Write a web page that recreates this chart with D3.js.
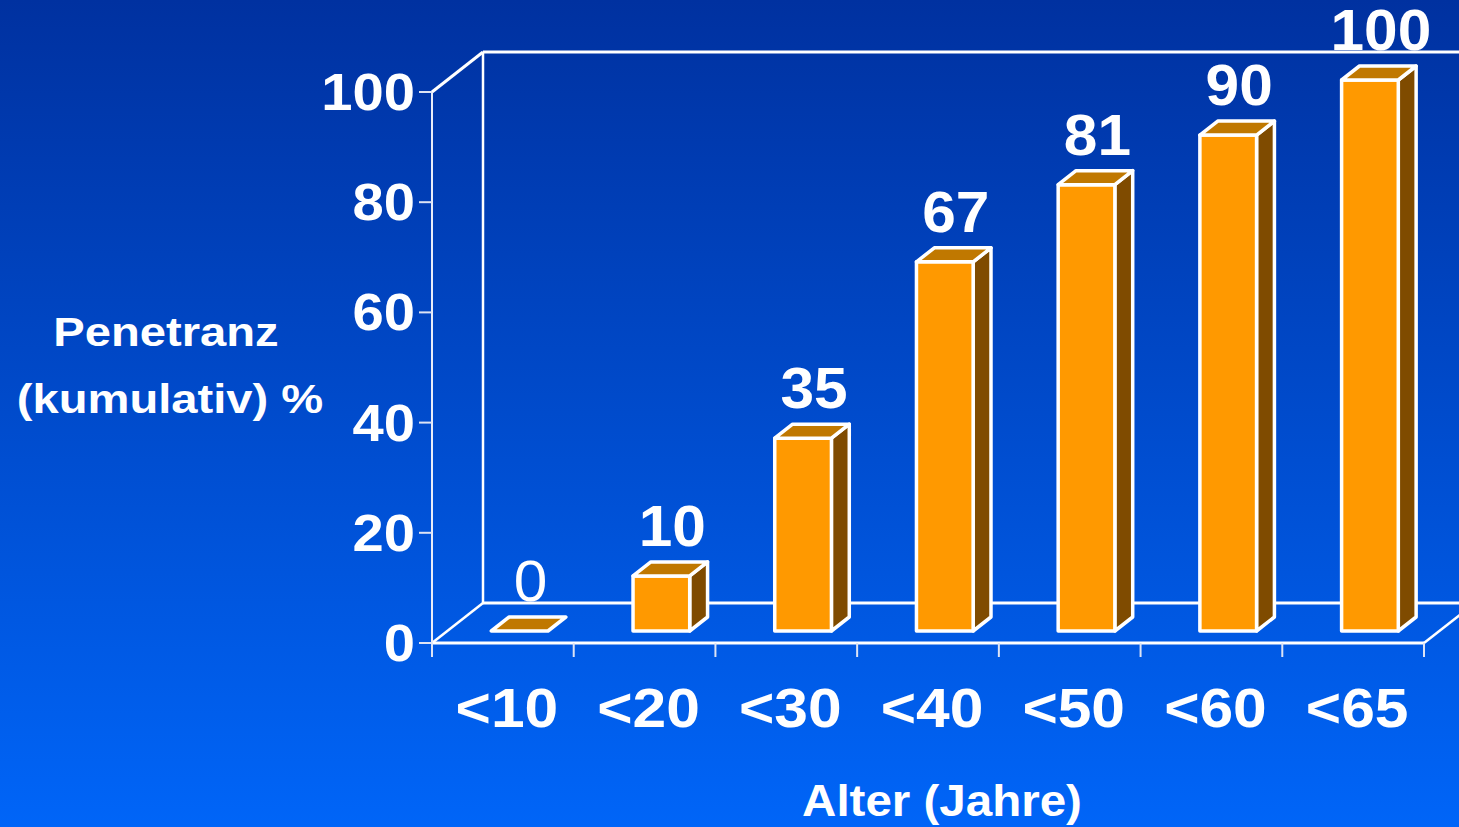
<!DOCTYPE html>
<html><head><meta charset="utf-8">
<script src="https://cdn.jsdelivr.net/npm/d3@7"></script>
<style>html,body{margin:0;padding:0;overflow:hidden;}svg{display:block;}</style>
</head><body>
<svg id="c" width="1459" height="827"></svg>
<script>
const categories = ["<10","<20","<30","<40","<50","<60","<65"];
const values = [0,10,35,67,81,90,100];
const yTicks = [0,20,40,60,80,100];
const yTitle = ["Penetranz","(kumulativ) %"];
const xTitle = "Alter (Jahre)";

const W = 1459, H = 827;
const svg = d3.select("#c");
const defs = svg.append("defs");
const g = defs.append("linearGradient").attr("id","bg").attr("x1",0).attr("y1",0).attr("x2",0).attr("y2",1);
g.append("stop").attr("offset","0%").attr("stop-color","#0031A0");
g.append("stop").attr("offset","100%").attr("stop-color","#0065F8");
svg.append("rect").attr("width",W).attr("height",H).attr("fill","url(#bg)");

const FONT = "Liberation Sans, Arial, Helvetica, sans-serif";
const x = d3.scaleBand().domain(categories).range([432,1424]).padding(0);
const y = d3.scaleLinear().domain([0,100]).range([643,92]);
const DX = 51, DY = -40;           // full depth offset
const f0 = 0.3, fd = 0.35;         // bar front depth fraction, bar depth fraction
const bw = x.bandwidth()*0.4;

// frame
const frame = svg.append("g").attr("stroke","#fff").attr("fill","none");
const xl = x.range()[0], xr = x.range()[1];
const y0 = y(0), y1 = y(100);
frame.append("line").attr("x1",xl+DX).attr("y1",y1+DY).attr("x2",xr+DX).attr("y2",y1+DY).attr("stroke-width",3);
frame.append("line").attr("x1",xl+DX).attr("y1",y1+DY).attr("x2",xl+DX).attr("y2",y0+DY).attr("stroke-width",2.5);
frame.append("line").attr("x1",xl+DX).attr("y1",y0+DY).attr("x2",xr+DX).attr("y2",y0+DY).attr("stroke-width",3);
frame.append("line").attr("x1",xl).attr("y1",y1).attr("x2",xl+DX).attr("y2",y1+DY).attr("stroke-width",3);
frame.append("line").attr("x1",xl).attr("y1",y0).attr("x2",xl+DX).attr("y2",y0+DY).attr("stroke-width",2.5);
frame.append("line").attr("x1",xr).attr("y1",y0).attr("x2",xr+DX).attr("y2",y0+DY).attr("stroke-width",2.5);
frame.append("line").attr("x1",xl).attr("y1",y0).attr("x2",xr).attr("y2",y0).attr("stroke-width",3);
frame.append("line").attr("x1",xl).attr("y1",y1).attr("x2",xl).attr("y2",y0).attr("stroke-width",2).attr("stroke","#e8ecf8");

// y ticks
const yAxis = svg.append("g");
yAxis.selectAll("line").data(yTicks).join("line")
  .attr("x1",xl-13).attr("x2",xl).attr("y1",d=>y(d)).attr("y2",d=>y(d))
  .attr("stroke","#dde4f5").attr("stroke-width",2);
yAxis.selectAll("text").data(yTicks).join("text")
  .attr("transform",d=>`translate(415,${y(d)+18}) scale(1.08,1)`)
  .attr("text-anchor","end").attr("font-family",FONT).attr("font-weight","bold")
  .attr("font-size",52).attr("fill","#fff").text(d=>d);

// x ticks
const bounds = categories.map(c=>x(c)).concat([xr]);
svg.append("g").selectAll("line").data(bounds).join("line")
  .attr("x1",d=>d).attr("x2",d=>d).attr("y1",y0).attr("y2",y0+14)
  .attr("stroke","#dde4f5").attr("stroke-width",2);
svg.append("g").selectAll("text").data(categories).join("text")
  .attr("transform",d=>`translate(${x(d)+x.bandwidth()/2+4},727) scale(1.08,1)`)
  .attr("text-anchor","middle").attr("font-family",FONT).attr("font-weight","bold")
  .attr("font-size",56).attr("fill","#fff").text(d=>d);

// bars
const data = categories.map((c,i)=>({c, v:values[i]}));
const bars = svg.append("g").attr("stroke","#fff").attr("stroke-width",3.5).attr("stroke-linejoin","round");
const ddx = DX*fd, ddy = DY*fd;
data.forEach(d=>{
  const x0 = x(d.c) + (x.bandwidth()-bw)/2 + DX*f0 + 1.5;
  const ft = y(d.v) + DY*f0, fb = y(0) + DY*f0;
  const pts = a=>a.map(p=>p.join(",")).join(" ");
  if (d.v>0) {
    bars.append("polygon").attr("fill","#7F4B00")
      .attr("points",pts([[x0+bw,ft],[x0+bw+ddx,ft+ddy],[x0+bw+ddx,fb+ddy],[x0+bw,fb]]));
    bars.append("polygon").attr("fill","#FF9900")
      .attr("points",pts([[x0,ft],[x0+bw,ft],[x0+bw,fb],[x0,fb]]));
  }
  bars.append("polygon").attr("fill","#C07800")
    .attr("points",pts([[x0,ft],[x0+bw,ft],[x0+bw+ddx,ft+ddy],[x0+ddx,ft+ddy]]));
  svg.append("text")
    .attr("transform",`translate(${x0+bw/2+ddx/2+2},${ft+ddy-16}) scale(1.06,1)`)
    .attr("text-anchor","middle").attr("font-family",FONT)
    .attr("font-weight",d.v===0?"normal":"bold")
    .attr("font-size",57).attr("fill","#fff").text(d.v);
});

// titles
const tt = svg.append("g").attr("font-family",FONT).attr("font-weight","bold").attr("font-size",41).attr("fill","#fff").attr("text-anchor","middle");
tt.append("text").attr("transform","translate(166,346) scale(1.15,1)").text(yTitle[0]);
tt.append("text").attr("transform","translate(170,413) scale(1.15,1)").text(yTitle[1]);
tt.append("text").attr("transform","translate(942,816) scale(1.08,1)").attr("font-size",44).text(xTitle);
</script>
</body></html>
